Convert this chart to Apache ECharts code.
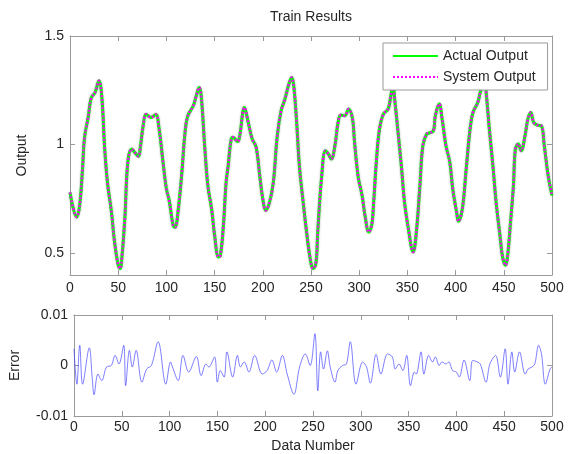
<!DOCTYPE html>
<html>
<head>
<meta charset="utf-8">
<title>Train Results</title>
<script src="https://cdn.jsdelivr.net/npm/echarts@6/dist/echarts.min.js"></script>
<style>
  html, body { margin: 0; padding: 0; background: #fff; }
  #chart { width: 571px; height: 454px; }
</style>
</head>
<body>
<div id="chart"></div>
<script>
// sample index / output value
var outIdx = [0, 7, 10, 13, 15, 19, 22, 26, 30, 33, 36, 39, 43, 46, 50, 52, 54, 57, 60, 64,
  67, 71, 73, 76, 79, 84, 89, 92, 97, 100, 103, 107, 109, 112, 116, 119, 122, 128, 131, 134,
  136, 140, 143, 147, 150, 154, 156, 159, 162, 164, 167, 169, 174, 176, 181, 185, 189, 193, 197, 200,
  203, 207, 211, 215, 219, 223, 227, 230, 232, 235, 238, 242, 245, 249, 252, 255, 257, 261, 265, 268,
  271, 275, 278, 281, 285, 289, 293, 295, 299, 303, 306, 310, 313, 315, 318, 321, 325, 330, 333, 335,
  337, 340, 344, 347, 351, 356, 359, 363, 366, 370, 373, 377, 379, 383, 386, 390, 394, 397, 401, 403,
  407, 411, 415, 418, 423, 426, 430, 432, 435, 439, 442, 446, 449, 452, 454, 457, 460, 462, 465, 468,
  472, 475, 478, 481, 485, 489, 492, 496, 500]
var actualOutput = [0.78, 0.667, 0.72, 0.89, 1.03, 1.13, 1.215, 1.24, 1.294, 1.22, 0.98, 0.82, 0.69, 0.56, 0.445, 0.43, 0.49, 0.67, 0.92, 0.98,
  0.965, 0.946, 0.99, 1.09, 1.14, 1.125, 1.139, 1.087, 0.9, 0.797, 0.74, 0.628, 0.62, 0.69, 0.87, 1.04, 1.13, 1.18, 1.225, 1.263,
  1.23, 0.975, 0.812, 0.7, 0.583, 0.483, 0.49, 0.62, 0.83, 0.9, 1.02, 1.034, 1.014, 1.04, 1.171, 1.1, 1.026, 0.99, 0.85, 0.75,
  0.697, 0.735, 0.83, 1.04, 1.156, 1.21, 1.278, 1.309, 1.275, 1.11, 0.9, 0.73, 0.613, 0.48, 0.43, 0.45, 0.598, 0.85, 0.972, 0.957,
  0.934, 1.0, 1.1, 1.136, 1.133, 1.164, 1.12, 1.02, 0.85, 0.766, 0.674, 0.598, 0.63, 0.735, 0.934, 1.07, 1.14, 1.164, 1.23, 1.27,
  1.2, 1.07, 0.888, 0.735, 0.613, 0.506, 0.583, 0.812, 0.995, 1.049, 1.054, 1.064, 1.133, 1.187, 1.118, 0.995, 0.919, 0.797, 0.69, 0.647,
  0.705, 0.888, 1.072, 1.148, 1.194, 1.248, 1.29, 1.225, 1.072, 0.888, 0.735, 0.583, 0.476, 0.445, 0.49, 0.644, 0.812, 0.98, 1.003, 0.972,
  1.041, 1.118, 1.148, 1.102, 1.09, 1.087, 0.995, 0.858, 0.766]
// the model output sits on top of the target at this scale
var systemOutput = actualOutput.slice()

// error
var errIdx = [0, 3, 6, 9, 16, 19, 21, 25, 29, 34, 39, 43, 47, 52, 54, 58, 61, 65, 71, 76,
  81, 88, 96, 101, 103, 109, 114, 120, 128, 133, 138, 141, 147, 150, 153, 157, 160, 166, 171, 174,
  178, 183, 189, 197, 202, 207, 212, 218, 223, 230, 236, 242, 247, 252, 255, 258, 261, 265, 268, 273,
  276, 281, 285, 289, 295, 302, 306, 310, 316, 321, 328, 333, 336, 340, 344, 348, 352, 356, 358, 363,
  366, 371, 375, 378, 382, 385, 389, 392, 396, 400, 403, 408, 414, 417, 422, 425, 431, 435, 441, 446,
  451, 454, 458, 461, 466, 472, 475, 479, 482, 486, 489, 493, 498, 500]
var errValues = [0.0033, -0.0037, 0.004, -0.0037, 0.0035, -0.0023, -0.0058, -0.0017, -0.003, -0.0003, 0, 0.002, 0.0003, 0.004, -0.004, 0.003, -0.0003, 0.003, -0.0033, -0.0007,
  0, 0.0047, -0.0037, 0.0007, -0.0003, -0.003, 0.002, -0.0013, 0.0018, -0.002, 0.0003, -0.0003, 0.0017, -0.0033, -0.001, -0.0023, 0.0027, -0.0023, 0.002, -0.0003,
  0.0007, -0.0013, 0.002, -0.0017, -0.001, 0.0011, -0.0013, 0.002, -0.0017, -0.0057, -0.0003, 0.0023, 0, 0.0063, -0.005, 0.0027, -0.0007, 0.0029, -0.0003, -0.0033,
  -0.001, 0, 0.0003, 0.0047, -0.0037, 0.0007, -0.0003, -0.0035, 0.0022, -0.0017, 0.0023, 0.0017, -0.0007, 0.0003, -0.001, 0.002, -0.004, -0.0013, -0.0017, 0.0027,
  -0.0017, 0.002, 0.0007, 0.0017, 0, 0.0007, 0.0003, 0.0007, -0.001, -0.0013, -0.0023, 0.0011, -0.003, 0.001, 0.0007, 0.0003, -0.0033, 0.0003, 0.002, -0.0023,
  0.0033, -0.0037, 0.0027, -0.0013, 0.0027, -0.0017, -0.0007, -0.0003, 0.0003, 0.004, 0.0023, -0.0037, -0.0007, -0.0003]

var outTicks = [0.5, 1, 1.5]
var errTicks = [-0.01, 0, 0.01]

var font = 'Liberation Sans, Arial, sans-serif'
var textColor = '#262626'
var boxColor = '#9a9a9a'

function pairs(xs, ys) {
  return xs.map(function (x, i) { return [x, ys[i]] })
}

// one axis per side so every plot gets a closed box with inward ticks
function xAx(grid, pos, labels) {
  return {
    type: 'value', gridIndex: grid, position: pos, min: 0, max: 500, interval: 50,
    axisLine: { show: true, onZero: false, lineStyle: { color: boxColor, width: 1 } },
    axisTick: { show: true, inside: true, length: 5, lineStyle: { color: boxColor } },
    axisLabel: { show: labels, color: textColor, fontSize: 14, fontFamily: font, margin: grid === 0 ? 6 : 4 },
    splitLine: { show: false }
  }
}
function yAx(grid, pos, labels, min, max, ticks, fmt) {
  return {
    type: 'value', gridIndex: grid, position: pos, min: min, max: max,
    axisLine: { show: true, onZero: false, lineStyle: { color: boxColor, width: 1 } },
    axisTick: { show: true, inside: true, length: 5, customValues: ticks, lineStyle: { color: boxColor } },
    axisLabel: { show: labels, customValues: ticks, formatter: fmt, color: textColor, fontSize: 14, fontFamily: font, margin: 6 },
    splitLine: { show: false }
  }
}

var chart = echarts.init(document.getElementById('chart'))

var yTop = yAx(0, 'left', true, 0.4, 1.5, outTicks, function (v) { return String(v) })
yTop.name = 'Output'
yTop.nameLocation = 'middle'
yTop.nameGap = 41
yTop.nameTextStyle = { color: textColor, fontSize: 14, fontFamily: font }

var yBot = yAx(1, 'left', true, -0.01, 0.01, errTicks, function (v) {
  return Math.abs(v) < 1e-9 ? '0' : v.toFixed(2)
})
yBot.name = 'Error'
yBot.nameLocation = 'middle'
yBot.nameGap = 52
yBot.nameTextStyle = { color: textColor, fontSize: 14, fontFamily: font }

var xBot = xAx(1, 'bottom', true)
xBot.name = 'Data Number'
xBot.nameLocation = 'middle'
xBot.nameGap = 23
xBot.nameTextStyle = { color: textColor, fontSize: 14, fontFamily: font }

chart.setOption({
  animation: false,
  backgroundColor: '#fff',
  title: {
    text: 'Train Results',
    left: 311, top: 10, textAlign: 'center', padding: 0,
    textStyle: { color: textColor, fontSize: 14, fontWeight: 'normal', fontFamily: font }
  },
  legend: {
    data: ['Actual Output', 'System Output'],
    orient: 'vertical',
    left: 383, top: 43,
    padding: [6, 12, 6, 9],
    itemWidth: 45, itemHeight: 14, itemGap: 7,
    itemStyle: { opacity: 0 }, // line only, no marker in the key
    backgroundColor: '#fff',
    borderColor: boxColor, borderWidth: 1,
    textStyle: { color: textColor, fontSize: 14, fontFamily: font }
  },
  grid: [
    { left: 70, top: 36, width: 482, height: 239 },
    { left: 70, top: 315, width: 482, height: 102 }
  ],
  xAxis: [
    xAx(0, 'bottom', true),
    xAx(0, 'top', false),
    xBot,
    xAx(1, 'top', false)
  ],
  yAxis: [
    yTop,
    yAx(0, 'right', false, 0.4, 1.5, outTicks),
    yBot,
    yAx(1, 'right', false, -0.01, 0.01, errTicks)
  ],
  series: [
    {
      name: 'Actual Output', type: 'line', xAxisIndex: 0, yAxisIndex: 0,
      data: pairs(outIdx, actualOutput), smooth: 0.4, symbol: 'none',
      lineStyle: { color: '#00ff00', width: 3, shadowColor: 'rgba(0,0,0,0.35)', shadowBlur: 2 },
      itemStyle: { color: '#00ff00' }
    },
    {
      name: 'System Output', type: 'line', xAxisIndex: 0, yAxisIndex: 0,
      data: pairs(outIdx, systemOutput), smooth: 0.4, symbol: 'none',
      lineStyle: { color: '#ff00ff', width: 2.5, type: [2, 2] },
      itemStyle: { color: '#ff00ff' }
    },
    {
      name: 'Error', type: 'line', xAxisIndex: 2, yAxisIndex: 2,
      data: pairs(errIdx, errValues), smooth: 0.35, symbol: 'none',
      lineStyle: { color: '#3a3aff', width: 1, opacity: 0.65 }
    }
  ]
})
</script>
</body>
</html>
